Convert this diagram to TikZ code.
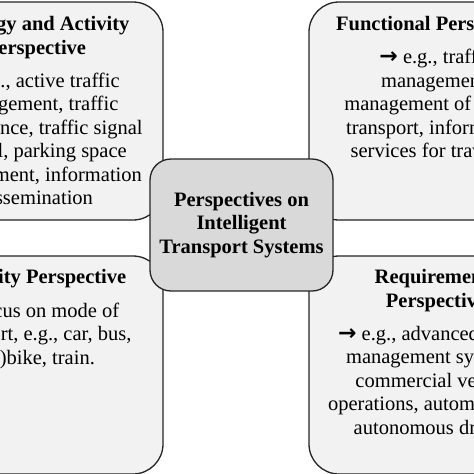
\documentclass[tikz,border=0pt]{standalone}
\usepackage{fontspec}
\setmainfont{Liberation Serif}
\newfontfamily\arrowfont{DejaVu Sans}
\usepackage{tikz}
\usetikzlibrary{positioning}
\definecolor{panelgray}{RGB}{242,242,242}
\definecolor{coregray}{RGB}{217,217,217}
\definecolor{edgegray}{RGB}{36,36,36}
\newcommand{\pointer}{{\arrowfont\bfseries\fontsize{22}{23.5}\selectfont →}}

\begin{document}
\begin{tikzpicture}[
  x=1pt,y=-1pt,
  font=\fontsize{20.5}{23.5}\selectfont,
  panel/.style={draw=edgegray,line width=1.3pt,fill=panelgray,rounded corners=30pt,minimum width=254pt,minimum height=218pt,inner sep=0pt},
  core/.style={draw=edgegray,line width=1.3pt,fill=coregray,rounded corners=21pt,minimum width=183pt,minimum height=132pt,align=center,font=\fontsize{20.5}{23.5}\selectfont\bfseries},
  head/.style={align=center,inner sep=0pt,font=\fontsize{20.5}{23.5}\selectfont\bfseries},
  body/.style={align=center,inner sep=0pt}
]
  \useasboundingbox (0,0) rectangle (474,474);
  \clip (0,0) rectangle (474,474);

  \node[panel] (strategy) at (36,111) {};
  \node[panel] (functional) at (436,111) {};
  \node[panel] (mobility) at (36,365) {};
  \node[panel] (requirement) at (436,365) {};

  \node[head,below=15pt of strategy.north] (strategyhead) {Strategy and Activity\\Perspective};
  \node[body,below=14pt of strategyhead] (strategybody) {\pointer{} e.g., active traffic\\management, traffic\\surveillance, traffic signal\\control, parking space\\management, information\\dissemination};

  \node[head,below=15pt of functional.north] (functionalhead) {Functional Perspective};
  \node[body,below=14pt of functionalhead] (functionalbody) {\pointer{} e.g., traffic\\management,\\management of public\\transport, information\\services for travelers};

  \node[head,below=14pt of mobility.north] (mobilityhead) {Mobility Perspective};
  \node[body,below=14pt of mobilityhead] (mobilitybody) {\pointer{} focus on mode of\\transport, e.g., car, bus,\\(e-)bike, train.};

  \node[head,below=14pt of requirement.north] (requirementhead) {Requirements\\Perspective};
  \node[body,below=14pt of requirementhead] (requirementbody) {\pointer{} e.g., advanced traffic\\management systems,\\commercial vehicle\\operations, automated and\\autonomous driving};

  \node[core] (core) at (241.5,225) {Perspectives on\\Intelligent\\Transport Systems};
\end{tikzpicture}
\end{document}
